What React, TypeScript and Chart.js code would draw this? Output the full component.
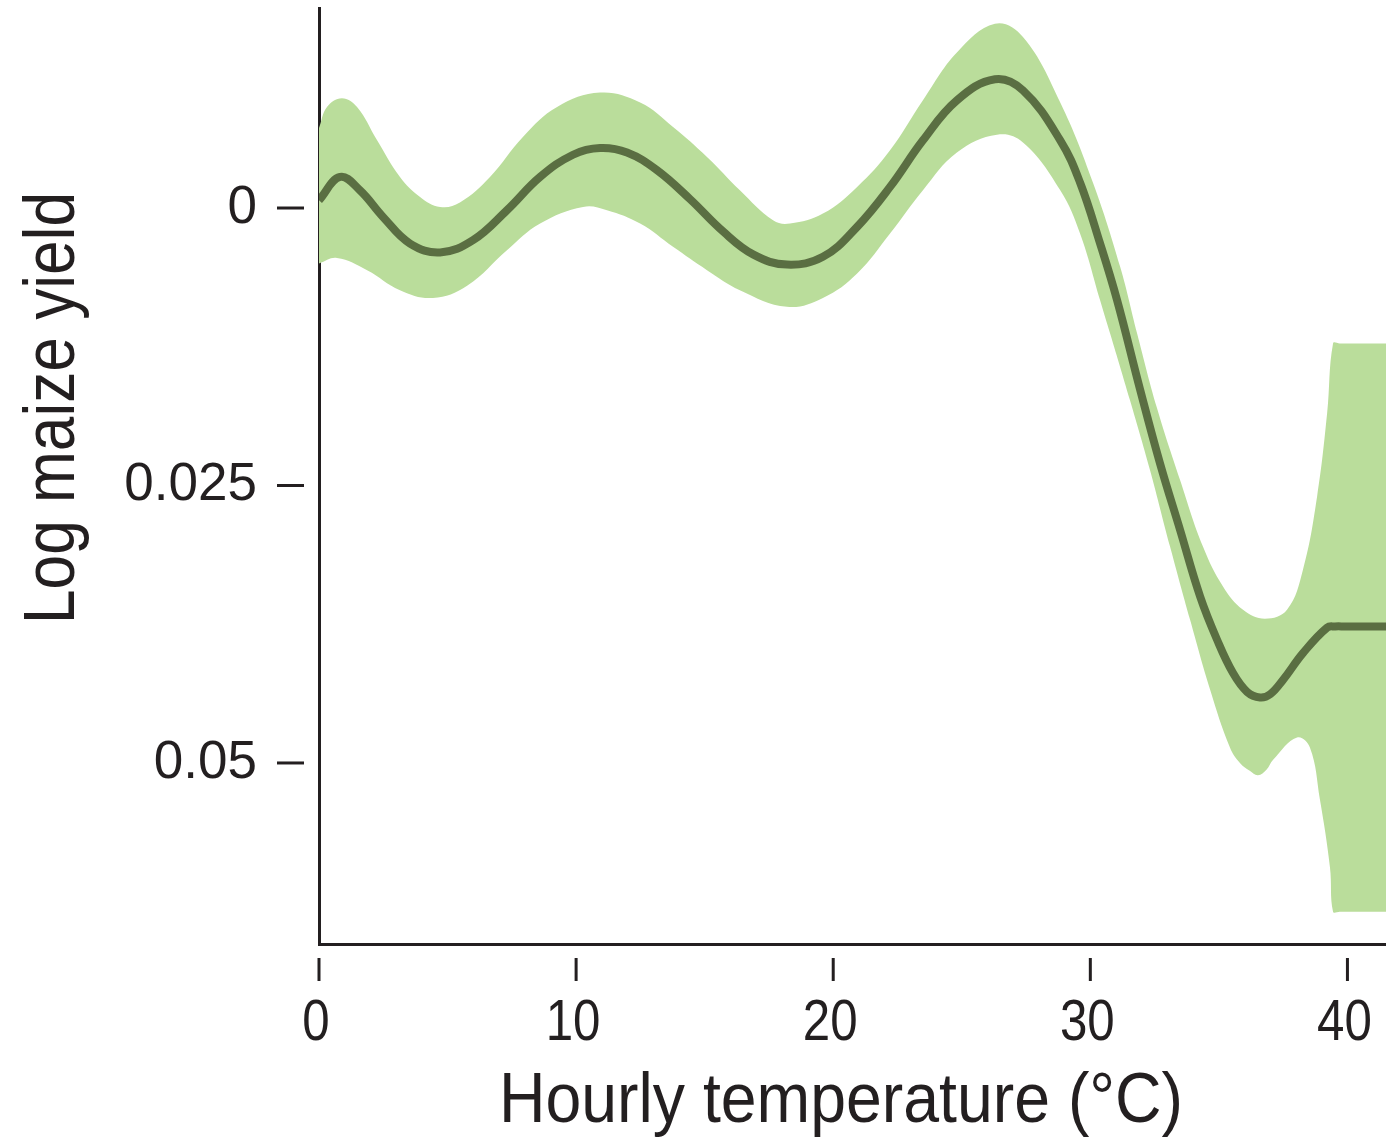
import React, { useEffect, useRef } from "react";
import { Chart, registerables } from "chart.js";

Chart.register(...registerables);

// Central estimate (hourly temperature in °C -> log maize yield, axis reversed)
const meanX = [0.0, 0.82, 1.59, 2.49, 3.54, 4.71, 5.99, 7.31, 8.6, 9.88, 10.93, 11.98, 13.15, 14.43, 15.71, 16.9, 18.2, 19.6, 20.93, 22.21, 23.49, 24.81, 26.29, 27.38, 28.83, 29.6, 30.38, 31.04, 31.93, 32.71, 33.49, 34.27, 34.93, 35.55, 36.1, 36.6, 37.0, 37.5, 38.27, 39.21, 39.52, 39.9, 41.5];
const meanY = [-0.0007, -0.0028, -0.0016, 0.0008, 0.0032, 0.004, 0.0029, 0.0002, -0.0028, -0.0048, -0.0054, -0.005, -0.0034, -0.0008, 0.0021, 0.0042, 0.0051, 0.0044, 0.0017, -0.0019, -0.0061, -0.0097, -0.0116, -0.0106, -0.0061, -0.0023, 0.0032, 0.0083, 0.0163, 0.023, 0.029, 0.035, 0.0389, 0.0419, 0.0436, 0.0441, 0.0438, 0.0425, 0.0401, 0.0378, 0.0377, 0.0377, 0.0377];

// Upper edge of the confidence band
const upperX = [0.0, 0.31, 0.89, 1.48, 2.26, 3.15, 3.93, 4.71, 5.48, 6.65, 7.93, 9.26, 10.93, 12.49, 13.77, 15.09, 16.37, 17.66, 18.32, 19.6, 20.93, 22.21, 23.49, 24.81, 26.29, 27.38, 28.83, 30.1, 31.16, 31.82, 32.59, 33.49, 34.38, 35.16, 35.94, 36.79, 37.65, 38.27, 38.82, 39.21, 39.44, 39.7, 41.5];
const upperY = [-0.0072, -0.0091, -0.0099, -0.0091, -0.0061, -0.0028, -0.001, -0.0001, -0.0005, -0.0028, -0.0064, -0.0091, -0.0104, -0.0095, -0.0073, -0.0046, -0.0016, 0.0011, 0.0014, 0.0005, -0.0019, -0.0052, -0.0097, -0.014, -0.0166, -0.0154, -0.0095, -0.0023, 0.0053, 0.0113, 0.018, 0.0245, 0.0305, 0.0341, 0.0362, 0.037, 0.0362, 0.0326, 0.026, 0.0185, 0.0122, 0.0122, 0.0122];

// Lower edge of the confidence band
const lowerX = [0.0, 0.7, 1.87, 3.15, 4.43, 5.76, 7.31, 8.6, 10.27, 11.2, 12.49, 13.77, 15.09, 16.37, 18.2, 19.6, 20.93, 22.21, 23.49, 24.81, 26.37, 27.38, 28.83, 29.6, 30.38, 30.77, 31.54, 32.32, 33.1, 33.88, 34.66, 35.43, 35.82, 36.2, 36.52, 36.85, 37.11, 38.04, 38.54, 38.93, 39.32, 39.44, 39.7, 41.5];
const lowerY = [0.005, 0.0045, 0.0056, 0.0074, 0.0081, 0.007, 0.0038, 0.0014, -0.0001, 0.0002, 0.0014, 0.0035, 0.0056, 0.0074, 0.0089, 0.0081, 0.0059, 0.0023, -0.0016, -0.005, -0.0066, -0.0059, -0.0016, 0.0023, 0.0083, 0.0113, 0.0173, 0.0236, 0.0305, 0.0371, 0.0434, 0.0486, 0.05, 0.0507, 0.0511, 0.0506, 0.0497, 0.0477, 0.0486, 0.0533, 0.0594, 0.0634, 0.0634, 0.0634];

const xTickValues = [0, 10, 20, 30, 40];
const xTickLabels = ["0", "10", "20", "30", "40"];
const yTickValues = [0, 0.025, 0.05];
const yTickLabels = ["0", "0.025", "0.05"];
const xTitle = "Hourly temperature (°C)";
const yTitle = "Log maize yield";

const BAND = "#badd9b";
const LINE = "#5a6e42";
const INK = "#231f20";

const toPts = (xs: number[], ys: number[]) => xs.map((x, i) => ({ x, y: ys[i] }));

const decorPlugin = {
  id: "decor",
  afterDraw(chart: any) {
    const ctx: CanvasRenderingContext2D = chart.ctx;
    const { left, bottom } = chart.chartArea;
    const xs = chart.scales.x;
    const ys = chart.scales.y;
    ctx.save();
    ctx.strokeStyle = INK;
    ctx.lineWidth = 3;
    ctx.lineCap = "butt";
    ys.ticks.forEach((t: any) => {
      const p = ys.getPixelForValue(t.value);
      ctx.beginPath();
      ctx.moveTo(left - 42, p);
      ctx.lineTo(left - 15, p);
      ctx.stroke();
    });
    xs.ticks.forEach((t: any) => {
      const p = xs.getPixelForValue(t.value);
      ctx.beginPath();
      ctx.moveTo(p, bottom + 14);
      ctx.lineTo(p, bottom + 37);
      ctx.stroke();
    });

    ctx.fillStyle = INK;
    ctx.textAlign = "center";
    ctx.textBaseline = "alphabetic";

    // x tick labels (condensed face)
    ctx.font = "58px 'Liberation Sans', Arial, sans-serif";
    xs.ticks.forEach((t: any) => {
      const i = xTickValues.indexOf(t.value);
      if (i < 0) return;
      const p = xs.getPixelForValue(t.value);
      ctx.save();
      ctx.translate(p - 3, bottom + 96);
      ctx.scale(0.85, 1);
      ctx.fillText(xTickLabels[i], 0, 0);
      ctx.restore();
    });

    // x title (condensed)
    ctx.font = "70px 'Liberation Sans', Arial, sans-serif";
    const wx = ctx.measureText(xTitle).width;
    ctx.save();
    ctx.translate(841, 1122);
    ctx.scale(684 / wx, 1);
    ctx.fillText(xTitle, 0, 0);
    ctx.restore();

    // y title (rotated, condensed)
    ctx.font = "72px 'Liberation Sans', Arial, sans-serif";
    const wy = ctx.measureText(yTitle).width;
    ctx.save();
    ctx.translate(74, 408);
    ctx.rotate(-Math.PI / 2);
    ctx.scale(432 / wy, 1);
    ctx.fillText(yTitle, 0, 0);
    ctx.restore();

    ctx.restore();
  },
};

export default function App() {
  const ref = useRef<HTMLCanvasElement | null>(null);

  useEffect(() => {
    if (!ref.current) return;
    const chart = new Chart(ref.current, {
      type: "line",
      data: {
        datasets: [
          {
            label: "Estimate",
            data: toPts(meanX, meanY),
            borderColor: LINE,
            borderWidth: 8,
            pointRadius: 0,
            fill: false,
            tension: 0.4,
            borderCapStyle: "butt",
            borderJoinStyle: "round",
            order: 0,
          },
          {
            label: "Upper",
            data: toPts(upperX, upperY),
            borderWidth: 0,
            borderColor: BAND,
            backgroundColor: BAND,
            pointRadius: 0,
            fill: "+1",
            tension: 0.4,
            order: 1,
          },
          {
            label: "Lower",
            data: toPts(lowerX, lowerY),
            borderWidth: 0,
            borderColor: BAND,
            backgroundColor: BAND,
            pointRadius: 0,
            fill: false,
            tension: 0.4,
            order: 2,
          },
        ],
      },
      options: {
        responsive: false,
        animation: false,
        devicePixelRatio: 1,
        layout: { padding: { top: 8, right: 0, left: 0, bottom: 0 } },
        plugins: {
          legend: { display: false },
          tooltip: { enabled: false },
          title: { display: false },
        },
        scales: {
          x: {
            type: "linear",
            min: 0,
            max: 41.5,
            z: 1,
            afterBuildTicks: (s: any) => {
              s.ticks = xTickValues.map((v) => ({ value: v }));
            },
            afterFit: (s: any) => {
              s.height = 193;
              s.paddingLeft = 0;
              s.paddingRight = 0;
            },
            grid: { display: false, drawTicks: false },
            border: { display: true, color: INK, width: 3 },
            ticks: { display: false },
          },
          y: {
            type: "linear",
            reverse: true,
            min: -0.01802,
            max: 0.06631,
            z: 1,
            afterBuildTicks: (s: any) => {
              s.ticks = yTickValues.map((v) => ({ value: v }));
            },
            afterFit: (s: any) => {
              s.width = 319;
              s.paddingTop = 0;
              s.paddingBottom = 0;
            },
            grid: { display: false, drawTicks: false },
            border: { display: true, color: INK, width: 3 },
            ticks: {
              padding: 62,
              color: INK,
              font: { family: "'Liberation Sans', Arial, sans-serif", size: 53 },
              autoSkip: false,
              callback: (v: any) => {
                const i = yTickValues.findIndex((t) => Math.abs(t - Number(v)) < 1e-9);
                return i >= 0 ? yTickLabels[i] : "";
              },
            },
          },
        },
      },
      plugins: [decorPlugin],
    } as any);
    return () => chart.destroy();
  }, []);

  return (
    <div style={{ position: "absolute", left: 0, top: 0, width: 1386, height: 1137, background: "#fff" }}>
      <canvas ref={ref} width={1386} height={1137} style={{ display: "block" }} />
    </div>
  );
}
